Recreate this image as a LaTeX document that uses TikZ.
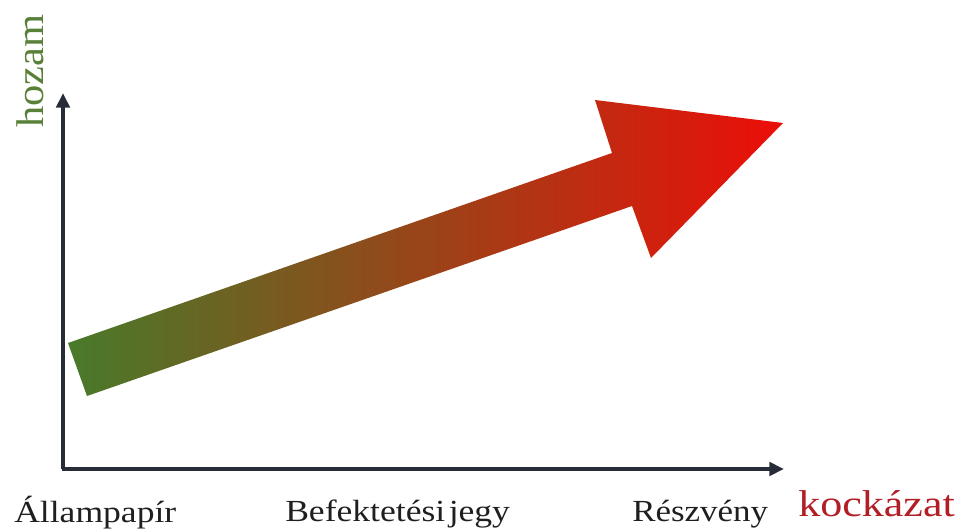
\documentclass[tikz,border=0pt]{standalone}
\usepackage{fontspec}
\setmainfont{Liberation Serif}
\usetikzlibrary{arrows.meta}
\definecolor{axisc}{RGB}{40,44,56}
\definecolor{greenc}{RGB}{72,122,42}
\definecolor{midc}{RGB}{145,75,34}
\definecolor{redc}{RGB}{236,14,8}
\definecolor{hozamc}{RGB}{88,128,56}
\definecolor{kockc}{RGB}{178,30,38}
\tikzset{
  axisline/.style={draw=axisc, line width=3pt, -{Triangle[length=11pt,width=10pt]}},
  bottomlabel/.style={anchor=base west, inner sep=0pt, font=\fontsize{23}{27}\selectfont, text=black!88},
}
\begin{document}
\begin{tikzpicture}[x=0.75pt,y=-0.75pt]
\useasboundingbox (0,0) rectangle (965,532);
% axes
\coordinate (origin) at (63,469);
\coordinate (ytip) at (63,93);
\coordinate (xtip) at (784,469);
\draw[axisline] (origin) -- (ytip);
\draw[axisline] ([xshift=-1.1pt]origin) -- (xtip);
% big arrow
\shade[left color=greenc, middle color=midc, right color=redc]
  (68,343) -- (612,153) -- (595,100) -- (783,123) -- (651,258) -- (632,206) -- (87,396) -- cycle;
% labels
\node[bottomlabel] (allam) at (14,522) {\scalebox{1.16}[1]{Állampapír}};
\node[bottomlabel] (befek) at (285,521) {\scalebox{1.16}[1]{Befektetési\kern-3.5pt\ jegy}};
\node[bottomlabel] (reszv) at (632,521) {\scalebox{1.14}[1]{Részvény}};
\node[anchor=base west, inner sep=0pt, font=\fontsize{28}{32}\selectfont, text=kockc] (kock) at (798,516) {\scalebox{1.18}[1]{kockázat}};
\node[anchor=base west, inner sep=0pt, rotate=90, font=\fontsize{29}{33}\selectfont, text=hozamc] (hozam) at (43,128) {\scalebox{1.1}[1]{hozam}};
\end{tikzpicture}
\end{document}
